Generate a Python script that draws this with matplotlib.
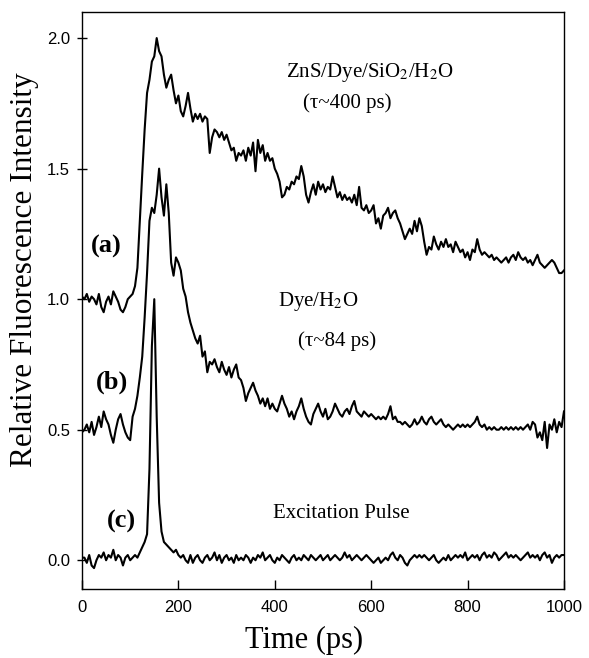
import numpy as np
import matplotlib
matplotlib.use("Agg")
import matplotlib.pyplot as plt

# trace (a) ZnS/Dye/SiO2/H2O, sampled every 5 ps
trace_a = [
    1.01, 1.00, 1.02, 0.99, 1.01, 1.00, 0.98, 1.02, 0.97, 0.95, 0.99, 1.01, 0.98, 1.03, 1.01, 0.99, 0.96, 0.95, 0.97, 1.00,
    1.01, 1.02, 1.05, 1.12, 1.30, 1.48, 1.65, 1.79, 1.84, 1.91, 1.93, 2.00, 1.95, 1.93, 1.86, 1.81, 1.84, 1.86, 1.80, 1.75,
    1.78, 1.72, 1.70, 1.74, 1.79, 1.73, 1.68, 1.71, 1.69, 1.71, 1.68, 1.70, 1.69, 1.56, 1.62, 1.65, 1.64, 1.62, 1.64, 1.61,
    1.63, 1.60, 1.57, 1.58, 1.53, 1.56, 1.55, 1.57, 1.53, 1.58, 1.55, 1.60, 1.49, 1.61, 1.56, 1.59, 1.53, 1.56, 1.53, 1.54,
    1.50, 1.48, 1.45, 1.39, 1.40, 1.43, 1.42, 1.45, 1.44, 1.47, 1.46, 1.51, 1.47, 1.40, 1.37, 1.41, 1.44, 1.40, 1.45, 1.42,
    1.44, 1.41, 1.43, 1.42, 1.47, 1.43, 1.39, 1.41, 1.38, 1.40, 1.38, 1.39, 1.37, 1.40, 1.36, 1.43, 1.35, 1.34, 1.36, 1.33,
    1.34, 1.36, 1.29, 1.31, 1.27, 1.32, 1.33, 1.35, 1.31, 1.33, 1.34, 1.31, 1.29, 1.26, 1.23, 1.25, 1.27, 1.25, 1.30, 1.26,
    1.31, 1.28, 1.22, 1.17, 1.20, 1.19, 1.24, 1.21, 1.19, 1.22, 1.20, 1.23, 1.20, 1.21, 1.18, 1.22, 1.20, 1.18, 1.19, 1.16,
    1.18, 1.15, 1.19, 1.18, 1.23, 1.19, 1.17, 1.18, 1.17, 1.16, 1.17, 1.15, 1.16, 1.15, 1.14, 1.15, 1.16, 1.14, 1.16, 1.17,
    1.15, 1.18, 1.16, 1.15, 1.16, 1.14, 1.15, 1.13, 1.15, 1.17, 1.14, 1.13, 1.12, 1.13, 1.14, 1.15, 1.14, 1.12, 1.10, 1.10,
    1.11,
]

# trace (b) Dye/H2O
trace_b = [
    0.49, 0.50, 0.52, 0.49, 0.53, 0.48, 0.51, 0.55, 0.51, 0.57, 0.54, 0.52, 0.48, 0.45, 0.50, 0.54, 0.56, 0.52, 0.49, 0.47,
    0.46, 0.55, 0.58, 0.63, 0.70, 0.78, 0.93, 1.10, 1.30, 1.35, 1.33, 1.40, 1.50, 1.39, 1.32, 1.44, 1.33, 1.14, 1.09, 1.16,
    1.14, 1.11, 1.04, 1.01, 0.95, 0.91, 0.88, 0.85, 0.83, 0.86, 0.78, 0.80, 0.72, 0.76, 0.75, 0.77, 0.74, 0.72, 0.76, 0.73,
    0.71, 0.74, 0.70, 0.73, 0.75, 0.70, 0.69, 0.66, 0.61, 0.64, 0.66, 0.68, 0.65, 0.63, 0.60, 0.62, 0.59, 0.62, 0.58, 0.60,
    0.58, 0.57, 0.60, 0.63, 0.60, 0.58, 0.55, 0.57, 0.54, 0.57, 0.59, 0.62, 0.58, 0.55, 0.53, 0.52, 0.56, 0.58, 0.60, 0.57,
    0.55, 0.58, 0.54, 0.55, 0.57, 0.60, 0.58, 0.56, 0.55, 0.57, 0.58, 0.56, 0.59, 0.61, 0.57, 0.56, 0.55, 0.57, 0.56, 0.55,
    0.56, 0.55, 0.54, 0.55, 0.54, 0.55, 0.54, 0.56, 0.59, 0.54, 0.55, 0.53, 0.53, 0.52, 0.53, 0.52, 0.51, 0.52, 0.54, 0.52,
    0.53, 0.55, 0.53, 0.52, 0.54, 0.55, 0.53, 0.52, 0.53, 0.54, 0.52, 0.51, 0.52, 0.51, 0.50, 0.51, 0.52, 0.51, 0.52, 0.51,
    0.52, 0.51, 0.52, 0.53, 0.55, 0.52, 0.51, 0.52, 0.50, 0.51, 0.50, 0.51, 0.50, 0.50, 0.51, 0.50, 0.51, 0.50, 0.51, 0.50,
    0.51, 0.50, 0.51, 0.50, 0.51, 0.52, 0.50, 0.53, 0.52, 0.47, 0.49, 0.46, 0.53, 0.43, 0.52, 0.50, 0.54, 0.49, 0.53, 0.51,
    0.57,
]

# trace (c) excitation pulse
trace_c = [
    0.01, 0.01, -0.01, 0.02, -0.02, -0.03, 0.00, 0.02, 0.01, 0.03, 0.00, 0.02, 0.01, 0.04, 0.00, 0.02, 0.01, -0.02, 0.01, 0.02,
    0.00, 0.01, 0.02, 0.01, 0.03, 0.05, 0.07, 0.10, 0.35, 0.82, 1.00, 0.55, 0.22, 0.11, 0.07, 0.06, 0.05, 0.04, 0.03, 0.04,
    0.02, 0.01, 0.02, 0.00, -0.01, 0.02, -0.01, 0.01, 0.02, 0.00, -0.01, 0.01, 0.02, 0.00, 0.01, 0.03, 0.00, 0.02, -0.01, 0.01,
    0.02, 0.00, 0.01, -0.01, 0.02, 0.00, 0.01, 0.00, 0.02, 0.01, -0.01, 0.01, 0.00, 0.02, 0.01, 0.03, 0.00, 0.01, 0.02, 0.00,
    -0.01, 0.01, 0.00, 0.02, 0.01, 0.00, -0.01, 0.01, 0.02, 0.00, 0.01, 0.00, 0.02, 0.01, 0.00, 0.02, 0.01, 0.00, 0.01, 0.02,
    0.00, 0.01, 0.02, 0.00, 0.01, 0.02, 0.01, 0.00, 0.01, 0.03, 0.01, 0.02, 0.00, 0.01, 0.02, 0.01, 0.00, 0.01, 0.02, 0.01,
    0.00, -0.01, 0.00, 0.01, -0.01, 0.00, 0.01, 0.00, 0.02, 0.03, 0.01, 0.00, 0.02, 0.01, -0.01, -0.02, 0.00, 0.01, 0.02, 0.01,
    0.02, 0.01, 0.02, 0.01, 0.00, 0.01, 0.02, 0.00, -0.01, 0.00, 0.01, 0.00, 0.02, 0.00, 0.01, 0.02, 0.01, 0.02, 0.01, 0.03,
    0.00, 0.01, 0.02, 0.01, 0.02, 0.00, 0.02, 0.03, 0.01, 0.02, 0.01, 0.03, 0.02, 0.00, 0.01, 0.02, 0.03, 0.01, 0.02, 0.01,
    0.02, 0.01, 0.00, 0.01, 0.02, 0.03, 0.01, 0.02, 0.01, 0.02, 0.00, 0.02, 0.03, 0.01, 0.02, -0.01, 0.01, 0.02, 0.01, 0.02,
    0.02,
]

step = 5  # ps between samples
x_ticks = [0, 200, 400, 600, 800, 1000]
y_ticks = [0.0, 0.5, 1.0, 1.5, 2.0]

serif = "Liberation Serif"
sans = "Liberation Sans"
plt.rcParams["mathtext.fontset"] = "stix"

fig = plt.figure(figsize=(5.89, 6.58), dpi=100)
ax = fig.add_axes([0.1392, 0.1049, 0.8183, 0.8769])

for trace in (trace_a, trace_b, trace_c):
    t = np.arange(len(trace)) * step
    ax.plot(t, trace, color="black", lw=1.5)

ax.set_xlim(0, 1000)
ax.set_ylim(-0.11, 2.10)
ax.set_xticks(x_ticks)
ax.set_yticks(y_ticks)
ax.set_yticklabels([f"{v:.1f}" for v in y_ticks])
ax.tick_params(axis="x", direction="in", length=6.5, width=1, pad=8, labelsize=12)
ax.tick_params(axis="y", direction="inout", length=7, width=1, pad=5, labelsize=12)
for lab in ax.get_xticklabels() + ax.get_yticklabels():
    lab.set_fontfamily(sans)
for s in ax.spines.values():
    s.set_linewidth(1.0)

ax.set_xlabel("Time (ps)", fontfamily=serif, fontsize=22)
ax.xaxis.set_label_coords(0.46, -0.064)
ax.set_ylabel("Relative Fluorescence Intensity", fontfamily=serif, fontsize=22.5)
ax.yaxis.set_label_coords(-0.09, 0.553)

txt = dict(fontfamily=serif, fontsize=15, ha="center", va="center")
ax.text(597, 1.87, "ZnS/Dye/SiO$_2$/H$_2$O", **txt)
ax.text(550, 1.75, "(\u03c4~400 ps)", **txt)
ax.text(490, 0.99, "Dye/H$_2$O", **txt)
ax.text(529, 0.84, "(\u03c4~84 ps)", **txt)
ax.text(538, 0.18, "Excitation Pulse", **txt)

lbl = dict(fontfamily=serif, fontsize=19, fontweight="bold", ha="center", va="center")
ax.text(51, 1.20, "(a)", **lbl)
ax.text(63, 0.68, "(b)", **lbl)
ax.text(81, 0.15, "(c)", **lbl)

fig.savefig("out.png", dpi=100)
